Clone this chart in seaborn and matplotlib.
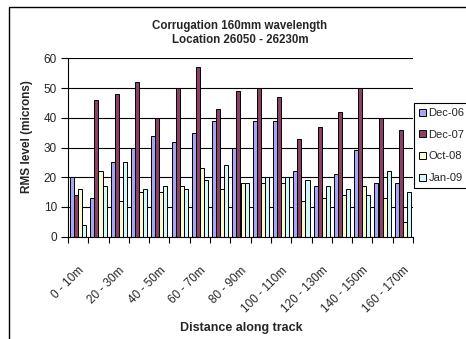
import matplotlib
matplotlib.use('Agg')
import matplotlib.pyplot as plt
import seaborn as sns
import pandas as pd
from matplotlib.patches import Rectangle

categories = ["0 - 10m", "10 - 20m", "20 - 30m", "30 - 40m", "40 - 50m", "50 - 60m",
              "60 - 70m", "70 - 80m", "80 - 90m", "90 - 100m", "100 - 110m", "110 - 120m",
              "120 - 130m", "130 - 140m", "140 - 150m", "150 - 160m", "160 - 170m"]
series_names = ["Dec-06", "Dec-07", "Oct-08", "Jan-09"]
dec06 = [20, 13, 25, 30, 34, 32, 35, 39, 30, 39, 39, 22, 17, 21, 29, 18, 18]
dec07 = [14, 46, 48, 52, 40, 50, 57, 43, 49, 50, 47, 33, 37, 42, 50, 40, 36]
oct08 = [16, 22, 12, 15, 15, 17, 23, 16, 18, 18, 18, 12, 13, 14, 17, 13, 5]
jan09 = [4, 17, 25, 16, 17, 16, 19, 24, 18, 20, 20, 19, 17, 16, 14, 22, 15]
colors = ["#9999FF", "#993366", "#FFFFCC", "#CCFFFF"]

sns.set_style('white')
plt.rcParams['font.family'] = ['Liberation Sans', 'DejaVu Sans']

rows = []
for name, vals in zip(series_names, [dec06, dec07, oct08, jan09]):
    for c, v in zip(categories, vals):
        rows.append({"Distance": c, "RMS": v, "Series": name})
df = pd.DataFrame(rows)

W, H = 466, 339
fig = plt.figure(figsize=(W / 100, H / 100), dpi=100)
ax = fig.add_axes([68 / W, 1 - 236.7 / H, (413 - 68) / W, (236.7 - 58.3) / H])

sns.barplot(data=df, x="Distance", y="RMS", hue="Series", order=categories,
            hue_order=series_names, palette=colors, errorbar=None, width=0.8,
            edgecolor="black", linewidth=0.7, ax=ax)

ax.set_ylim(0, 60)
ax.set_xlim(-0.5, 16.5)
ax.set_yticks(range(0, 61, 10))
ax.yaxis.grid(True, color="black", linewidth=0.8)
ax.xaxis.grid(False)
ax.set_axisbelow(True)
for s in ["top", "right"]:
    ax.spines[s].set_visible(False)
for s in ["left", "bottom"]:
    ax.spines[s].set_color("black")
    ax.spines[s].set_linewidth(0.8)

ax.set_xticks(range(0, 17, 2))
ax.set_xticklabels(categories[::2], rotation=45, ha="right", rotation_mode="anchor", fontsize=8.5)
ax.set_xticks([i - 0.5 for i in range(18)], minor=True)
ax.tick_params(axis="x", which="major", length=0, pad=20, bottom=True)
ax.tick_params(axis="x", which="minor", length=4, width=0.8, color="black", direction="out", bottom=True)
ax.tick_params(axis="y", length=5, width=0.8, color="black", direction="out", left=True, pad=3, labelsize=8.5)
ax.set_xlabel("")
ax.set_ylabel("")

fig.text(241 / W, 1 - 328 / H, "Distance along track", ha="center", va="center",
         fontsize=9, fontweight="bold")
fig.text(27 / W, 1 - 137 / H, "RMS level (microns)", ha="center", va="center",
         rotation=90, fontsize=8.5, fontweight="bold")
fig.text(240 / W, 1 - 26 / H, "Corrugation 160mm wavelength", ha="center", va="center",
         fontsize=8.3, fontweight="bold")
fig.text(240 / W, 1 - 40 / H, "Location 26050 - 26230m", ha="center", va="center",
         fontsize=8.3, fontweight="bold")

handles, labels = ax.get_legend_handles_labels()
if ax.get_legend() is not None:
    ax.get_legend().remove()
leg = fig.legend(handles, labels, loc="upper left", bbox_to_anchor=(414 / W, 1 - 103 / H),
                 frameon=True, fancybox=False, edgecolor="black", framealpha=1,
                 fontsize=8, handlelength=0.6, handleheight=0.6, handletextpad=0.25,
                 labelspacing=1.05, borderpad=0.45, borderaxespad=0)
leg.get_frame().set_linewidth(0.8)

fig.add_artist(Rectangle((9 / W, -0.1), 2, (1 - 7 / H) + 0.1, transform=fig.transFigure,
                         fill=False, edgecolor="black", linewidth=1.0))

fig.savefig("out.png", dpi=100)
